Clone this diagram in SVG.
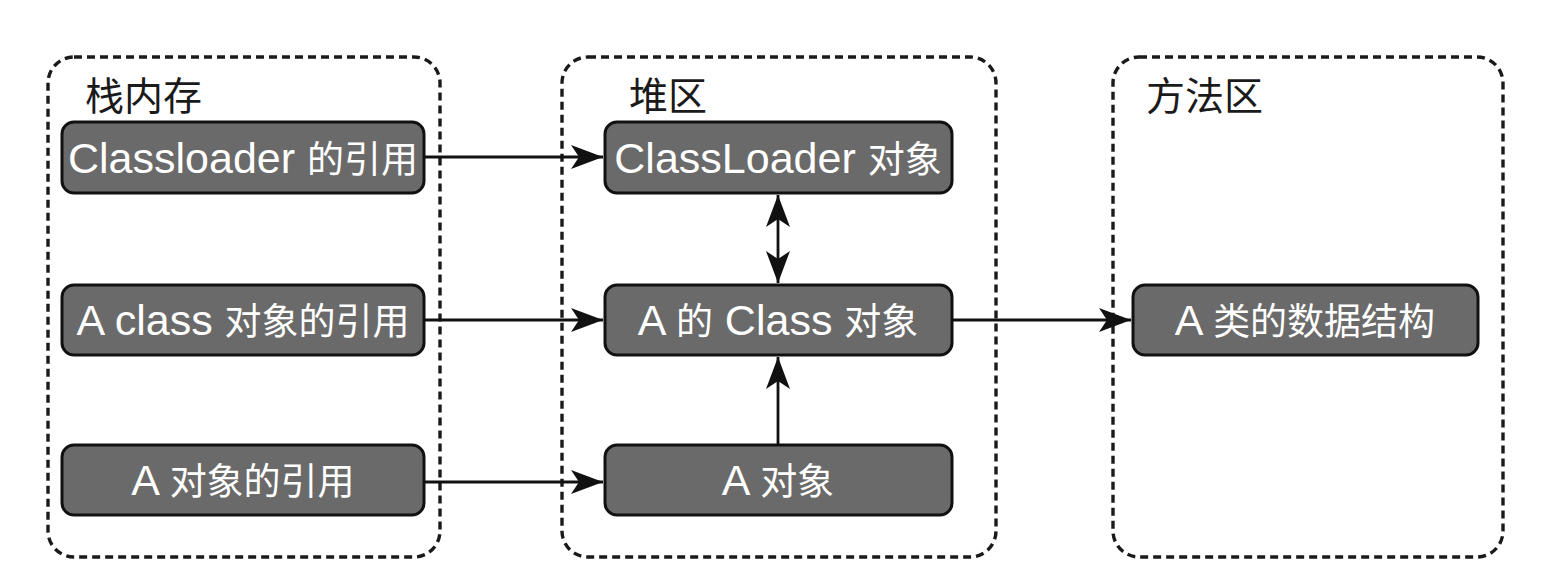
<svg xmlns="http://www.w3.org/2000/svg" width="1551" height="583" viewBox="0 0 1551 583">
<style>
.area{fill:none;stroke:#1a1a1a;stroke-width:3.4;stroke-dasharray:8 5}
.title{font-family:"Noto Sans CJK SC","Liberation Sans",sans-serif;font-size:39px;fill:#1a1a1a}
.box{fill:#6a6a6a;stroke:#111;stroke-width:3}
.lbl{font-family:"Liberation Sans","Noto Sans CJK SC",sans-serif;font-size:43px;fill:#fff;text-anchor:middle}
.cjk{font-family:"Noto Sans CJK SC",sans-serif;font-size:37px}
.edge{fill:none;stroke:#111;stroke-width:2.8}
</style>
<defs>
<marker id="arr" markerUnits="userSpaceOnUse" markerWidth="34" markerHeight="26" refX="32" refY="12" orient="auto-start-reverse" viewBox="0 0 34 26">
<path d="M0,0 L32,12 L0,24 L8,12 Z" fill="#111"/>
</marker>
</defs>
<rect width="1551" height="583" fill="#fff"/>
<g id="stack-area">
<rect class="area" x="48" y="57" width="392" height="500" rx="26"/>
<text class="title" x="85" y="110">栈内存</text>
</g>
<g id="heap-area">
<rect class="area" x="562" y="57" width="434" height="500" rx="26"/>
<text class="title" x="629" y="110">堆区</text>
</g>
<g id="method-area">
<rect class="area" x="1113" y="57" width="390" height="500" rx="26"/>
<text class="title" x="1146" y="110">方法区</text>
</g>
<g id="n-classloader-ref">
<rect class="box" x="62" y="122" width="362" height="71" rx="12"/>
<text class="lbl" x="243" y="173">Classloader <tspan class="cjk">的引用</tspan></text>
</g>
<g id="n-aclass-ref">
<rect class="box" x="62" y="285" width="362" height="70" rx="12"/>
<text class="lbl" x="243" y="335">A class <tspan class="cjk">对象的引用</tspan></text>
</g>
<g id="n-aobj-ref">
<rect class="box" x="62" y="445" width="362" height="70" rx="12"/>
<text class="lbl" x="243" y="495">A <tspan class="cjk">对象的引用</tspan></text>
</g>
<g id="n-classloader-obj">
<rect class="box" x="605" y="122" width="347" height="71" rx="12"/>
<text class="lbl" x="778" y="173">ClassLoader <tspan class="cjk">对象</tspan></text>
</g>
<g id="n-aclass-obj">
<rect class="box" x="605" y="285" width="347" height="70" rx="12"/>
<text class="lbl" x="778" y="335">A <tspan class="cjk">的</tspan> Class <tspan class="cjk">对象</tspan></text>
</g>
<g id="n-aobj">
<rect class="box" x="605" y="445" width="347" height="70" rx="12"/>
<text class="lbl" x="778" y="495">A <tspan class="cjk">对象</tspan></text>
</g>
<g id="n-adata">
<rect class="box" x="1133" y="285" width="345" height="70" rx="12"/>
<text class="lbl" x="1305" y="335">A <tspan class="cjk">类的数据结构</tspan></text>
</g>
<g id="connectors">
<line class="edge" x1="424" y1="157" x2="603" y2="157" marker-end="url(#arr)"/>
<line class="edge" x1="424" y1="320" x2="603" y2="320" marker-end="url(#arr)"/>
<line class="edge" x1="424" y1="482" x2="603" y2="482" marker-end="url(#arr)"/>
<line class="edge" x1="778" y1="195" x2="778" y2="283" marker-start="url(#arr)" marker-end="url(#arr)"/>
<line class="edge" x1="778" y1="445" x2="778" y2="357" marker-end="url(#arr)"/>
<line class="edge" x1="952" y1="320" x2="1131" y2="320" marker-end="url(#arr)"/>
</g>
</svg>
